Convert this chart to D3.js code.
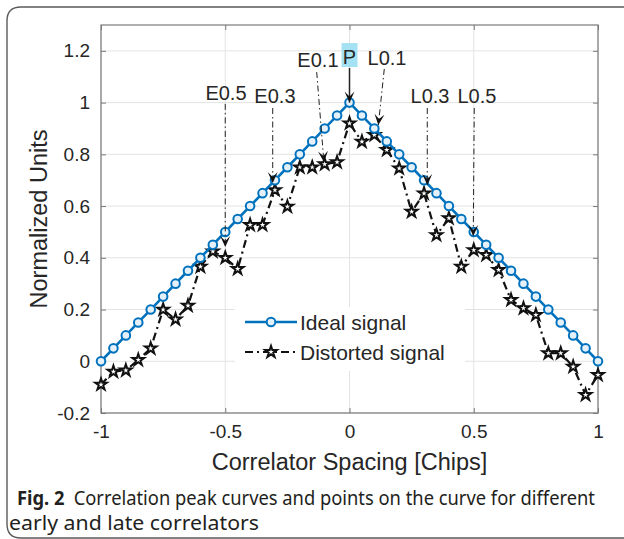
<!DOCTYPE html>
<html>
<head>
<meta charset="utf-8">
<script src="https://cdn.jsdelivr.net/npm/d3@7"></script>
<style>
  html, body { margin: 0; padding: 0; background: #fff; }
  svg { display: block; }
  .tick-lbl { font-family: "Liberation Sans", Arial, sans-serif; font-size: 19px; fill: #262626; }
  .ax-lbl { font-family: "Liberation Sans", Arial, sans-serif; font-size: 23.5px; fill: #262626; }
  .ann { font-family: "Liberation Sans", Arial, sans-serif; font-size: 20px; fill: #262626; }
  .leg { font-family: "Liberation Sans", Arial, sans-serif; font-size: 21px; fill: #262626; }
  .cap { font-family: "Noto Sans", "Open Sans", sans-serif; font-size: 19px; fill: #231f20; }
</style>
</head>
<body>
<svg id="chart" width="624" height="539"></svg>
<script>
// correlator spacing (chips)
const spacing = [-1.00, -0.95, -0.90, -0.85, -0.80, -0.75, -0.70, -0.65, -0.60, -0.55,
  -0.50, -0.45, -0.40, -0.35, -0.30, -0.25, -0.20, -0.15, -0.10, -0.05,
  0.00, 0.05, 0.10, 0.15, 0.20, 0.25, 0.30, 0.35, 0.40, 0.45,
  0.50, 0.55, 0.60, 0.65, 0.70, 0.75, 0.80, 0.85, 0.90, 0.95, 1.00];

const idealSignal = [0.00, 0.05, 0.10, 0.15, 0.20, 0.25, 0.30, 0.35, 0.40, 0.45,
  0.50, 0.55, 0.60, 0.65, 0.70, 0.75, 0.80, 0.85, 0.90, 0.95,
  1.00, 0.95, 0.90, 0.85, 0.80, 0.75, 0.70, 0.65, 0.60, 0.55,
  0.50, 0.45, 0.40, 0.35, 0.30, 0.25, 0.20, 0.15, 0.10, 0.05, 0.00];

const distortedSignal = [-0.090, -0.040, -0.035, 0.005, 0.050, 0.200, 0.162, 0.215, 0.366, 0.425,
  0.400, 0.357, 0.527, 0.527, 0.662, 0.598, 0.750, 0.750, 0.762, 0.770,
  0.920, 0.849, 0.875, 0.817, 0.746, 0.578, 0.649, 0.488, 0.553, 0.366,
  0.430, 0.411, 0.353, 0.237, 0.205, 0.179, 0.031, 0.031, -0.021, -0.130, -0.053];

const xTicks = [-1, -0.5, 0, 0.5, 1];
const xTickLabels = ['-1', '-0.5', '0', '0.5', '1'];
const yTicks = [-0.2, 0, 0.2, 0.4, 0.6, 0.8, 1, 1.2];
const yTickLabels = ['-0.2', '0', '0.2', '0.4', '0.6', '0.8', '1', '1.2'];

const seriesNames = ['Ideal signal', 'Distorted signal'];

// correlator annotations: label, text anchor (data), arrow tail and tip (data)
const annLabels = ['E0.5', 'E0.3', 'E0.1', 'P', 'L0.1', 'L0.3', 'L0.5'];
const annText = [[-0.497, 1.010], [-0.300, 0.998], [-0.127, 1.138], [0, 1.149], [0.151, 1.145], [0.324, 0.998], [0.513, 0.998]];
const annTail = [[-0.500, 0.995], [-0.309, 0.979], [-0.132, 1.118], [0, 1.134], [0.140, 1.130], [0.313, 0.979], [0.502, 0.979]];
const annTip = [[-0.500, 0.442], [-0.309, 0.689], [-0.103, 0.770], [0, 1.000], [0.116, 0.913], [0.313, 0.681], [0.498, 0.484]];

const svg = d3.select('#chart');

// plot box
const PLOT = {left: 101, right: 598, top: 25, bottom: 413};

const xScale = d3.scaleLinear().domain([-1, 1]).range([PLOT.left, PLOT.right]);
const yScale = d3.scaleLinear().domain([-0.2, 1.3]).range([PLOT.bottom, PLOT.top]);

// outer figure frame (rounded on the left)
svg.append('path')
  .attr('d', 'M624,7 H21 Q7,7 7,21 V524 Q7,538 21,538 H624')
  .attr('fill', 'none')
  .attr('stroke', '#5a5a5a')
  .attr('stroke-width', 1.4);

// GRID //
const grid = svg.append('g');
grid.selectAll('line.gx')
  .data(xTicks)
  .enter()
  .append('line')
  .attr('x1', d => xScale(d)).attr('x2', d => xScale(d))
  .attr('y1', PLOT.top).attr('y2', PLOT.bottom)
  .attr('stroke', '#e3e3e3').attr('stroke-width', 1);
grid.selectAll('line.gy')
  .data(yTicks)
  .enter()
  .append('line')
  .attr('y1', d => yScale(d)).attr('y2', d => yScale(d))
  .attr('x1', PLOT.left).attr('x2', PLOT.right)
  .attr('stroke', '#e3e3e3').attr('stroke-width', 1);

// AXES //
const tickLen = 5;
const axisColor = '#7a7a7a';

const xAxisB = svg.append('g')
  .attr('transform', `translate(0, ${PLOT.bottom})`)
  .call(d3.axisBottom(xScale).tickValues(xTicks).tickSizeInner(-tickLen).tickSizeOuter(0)
    .tickFormat((d, i) => xTickLabels[i]).tickPadding(12));
const xAxisT = svg.append('g')
  .attr('transform', `translate(0, ${PLOT.top})`)
  .call(d3.axisTop(xScale).tickValues(xTicks).tickSizeInner(-tickLen).tickSizeOuter(0).tickFormat(''));
const yAxisL = svg.append('g')
  .attr('transform', `translate(${PLOT.left}, 0)`)
  .call(d3.axisLeft(yScale).tickValues(yTicks).tickSizeInner(-tickLen).tickSizeOuter(0)
    .tickFormat((d, i) => yTickLabels[i]).tickPadding(11));
const yAxisR = svg.append('g')
  .attr('transform', `translate(${PLOT.right}, 0)`)
  .call(d3.axisRight(yScale).tickValues(yTicks).tickSizeInner(-tickLen).tickSizeOuter(0).tickFormat(''));

[xAxisB, xAxisT, yAxisL, yAxisR].forEach(a => {
  a.select('.domain').remove();
  a.selectAll('line').attr('stroke', axisColor);
  a.selectAll('text').attr('class', 'tick-lbl').attr('fill', null);
});
xAxisB.selectAll('text').attr('dy', '0.71em');

svg.append('rect')
  .attr('x', PLOT.left).attr('y', PLOT.top)
  .attr('width', PLOT.right - PLOT.left).attr('height', PLOT.bottom - PLOT.top)
  .attr('fill', 'none').attr('stroke', axisColor).attr('stroke-width', 1.2);

// axis labels
svg.append('text')
  .attr('class', 'ax-lbl')
  .attr('x', (PLOT.left + PLOT.right) / 2)
  .attr('y', 470)
  .style('text-anchor', 'middle')
  .text('Correlator Spacing [Chips]');

svg.append('text')
  .attr('class', 'ax-lbl')
  .attr('transform', 'rotate(-90)')
  .attr('x', -(PLOT.top + PLOT.bottom) / 2)
  .attr('y', 47)
  .style('text-anchor', 'middle')
  .text('Normalized Units');

// LEGEND BACKGROUND (hides grid) //
const legX = 235, legY = 307;
svg.append('rect')
  .attr('x', legX).attr('y', legY)
  .attr('width', 230).attr('height', 64)
  .attr('fill', '#fff');

// SERIES //
const pts = spacing.map((s, i) => ({x: s, ideal: idealSignal[i], dist: distortedSignal[i]}));

const blue = '#0072BD';
const idealLine = d3.line().x(d => xScale(d.x)).y(d => yScale(d.ideal));
const distLine = d3.line().x(d => xScale(d.x)).y(d => yScale(d.dist));

svg.append('path')
  .datum(pts)
  .attr('d', distLine)
  .attr('fill', 'none')
  .attr('stroke', '#111')
  .attr('stroke-width', 2.2)
  .attr('stroke-dasharray', '8,4,2,4');

const star = d3.symbol().type(d3.symbolStar).size(42);
svg.append('g').selectAll('path')
  .data(pts)
  .enter()
  .append('path')
  .attr('d', star)
  .attr('transform', d => `translate(${xScale(d.x)}, ${yScale(d.dist)})`)
  .attr('fill', '#fff')
  .attr('stroke', '#111')
  .attr('stroke-width', 2);

svg.append('path')
  .datum(pts)
  .attr('d', idealLine)
  .attr('fill', 'none')
  .attr('stroke', blue)
  .attr('stroke-width', 2.6);

svg.append('g').selectAll('circle')
  .data(pts)
  .enter()
  .append('circle')
  .attr('cx', d => xScale(d.x))
  .attr('cy', d => yScale(d.ideal))
  .attr('r', 4.3)
  .attr('fill', '#e4f1fa')
  .attr('stroke', blue)
  .attr('stroke-width', 2);

// ANNOTATIONS //
function arrowHead(tail, tip) {
  const x0 = xScale(tail[0]), y0 = yScale(tail[1]);
  const x1 = xScale(tip[0]), y1 = yScale(tip[1]);
  const len = Math.hypot(x1 - x0, y1 - y0);
  const ux = (x1 - x0) / len, uy = (y1 - y0) / len;
  const nx = -uy, ny = ux;
  const L = 11, W = 5;
  return `M${x1},${y1}` +
    ` L${x1 - L * ux + W * nx},${y1 - L * uy + W * ny}` +
    ` L${x1 - 0.55 * L * ux},${y1 - 0.55 * L * uy}` +
    ` L${x1 - L * ux - W * nx},${y1 - L * uy - W * ny} Z`;
}

const ann = svg.append('g');
annLabels.forEach((lbl, i) => {
  const isPeak = lbl === 'P';
  if (isPeak) {
    ann.append('rect')
      .attr('x', xScale(annText[i][0]) - 8)
      .attr('y', yScale(annText[i][1]) - 21)
      .attr('width', 16).attr('height', 24)
      .attr('fill', '#a4e2f3');
  }
  ann.append('line')
    .attr('x1', xScale(annTail[i][0])).attr('y1', yScale(annTail[i][1]))
    .attr('x2', xScale(annTip[i][0])).attr('y2', yScale(annTip[i][1]))
    .attr('stroke', '#222')
    .attr('stroke-width', isPeak ? 1.5 : 1)
    .attr('stroke-dasharray', isPeak ? null : '6,3,1.5,3');
  ann.append('path')
    .attr('d', arrowHead(annTail[i], annTip[i]))
    .attr('fill', '#111');
  ann.append('text')
    .attr('class', 'ann')
    .attr('x', xScale(annText[i][0]))
    .attr('y', yScale(annText[i][1]))
    .style('text-anchor', 'middle')
    .text(lbl);
});

// LEGEND //
const leg = svg.append('g');
const rowY = [322, 352];
// ideal entry
leg.append('line')
  .attr('x1', 245).attr('x2', 297).attr('y1', rowY[0]).attr('y2', rowY[0])
  .attr('stroke', blue).attr('stroke-width', 2.6);
leg.append('circle')
  .attr('cx', 271).attr('cy', rowY[0]).attr('r', 4.3)
  .attr('fill', '#e4f1fa').attr('stroke', blue).attr('stroke-width', 2);
// distorted entry
leg.append('line')
  .attr('x1', 245).attr('x2', 297).attr('y1', rowY[1]).attr('y2', rowY[1])
  .attr('stroke', '#111').attr('stroke-width', 2.2).attr('stroke-dasharray', '8,4,2,4');
leg.append('path')
  .attr('d', star)
  .attr('transform', `translate(271, ${rowY[1]})`)
  .attr('fill', '#fff').attr('stroke', '#111').attr('stroke-width', 2);

leg.selectAll('text')
  .data(seriesNames)
  .enter()
  .append('text')
  .attr('class', 'leg')
  .attr('x', 300)
  .attr('y', (d, i) => rowY[i])
  .attr('dy', '0.36em')
  .text(d => d);

// CAPTION //
const cap1 = svg.append('text')
  .attr('class', 'cap')
  .attr('x', 17).attr('y', 505)
  .attr('textLength', 578)
  .attr('lengthAdjust', 'spacingAndGlyphs');
cap1.append('tspan').style('font-weight', 'bold').text('Fig. 2');
cap1.append('tspan').text('\u2002Correlation peak curves and points on the curve for different');

svg.append('text')
  .attr('class', 'cap')
  .attr('x', 9).attr('y', 530)
  .attr('textLength', 250)
  .attr('lengthAdjust', 'spacingAndGlyphs')
  .text('early and late correlators');
</script>
</body>
</html>
